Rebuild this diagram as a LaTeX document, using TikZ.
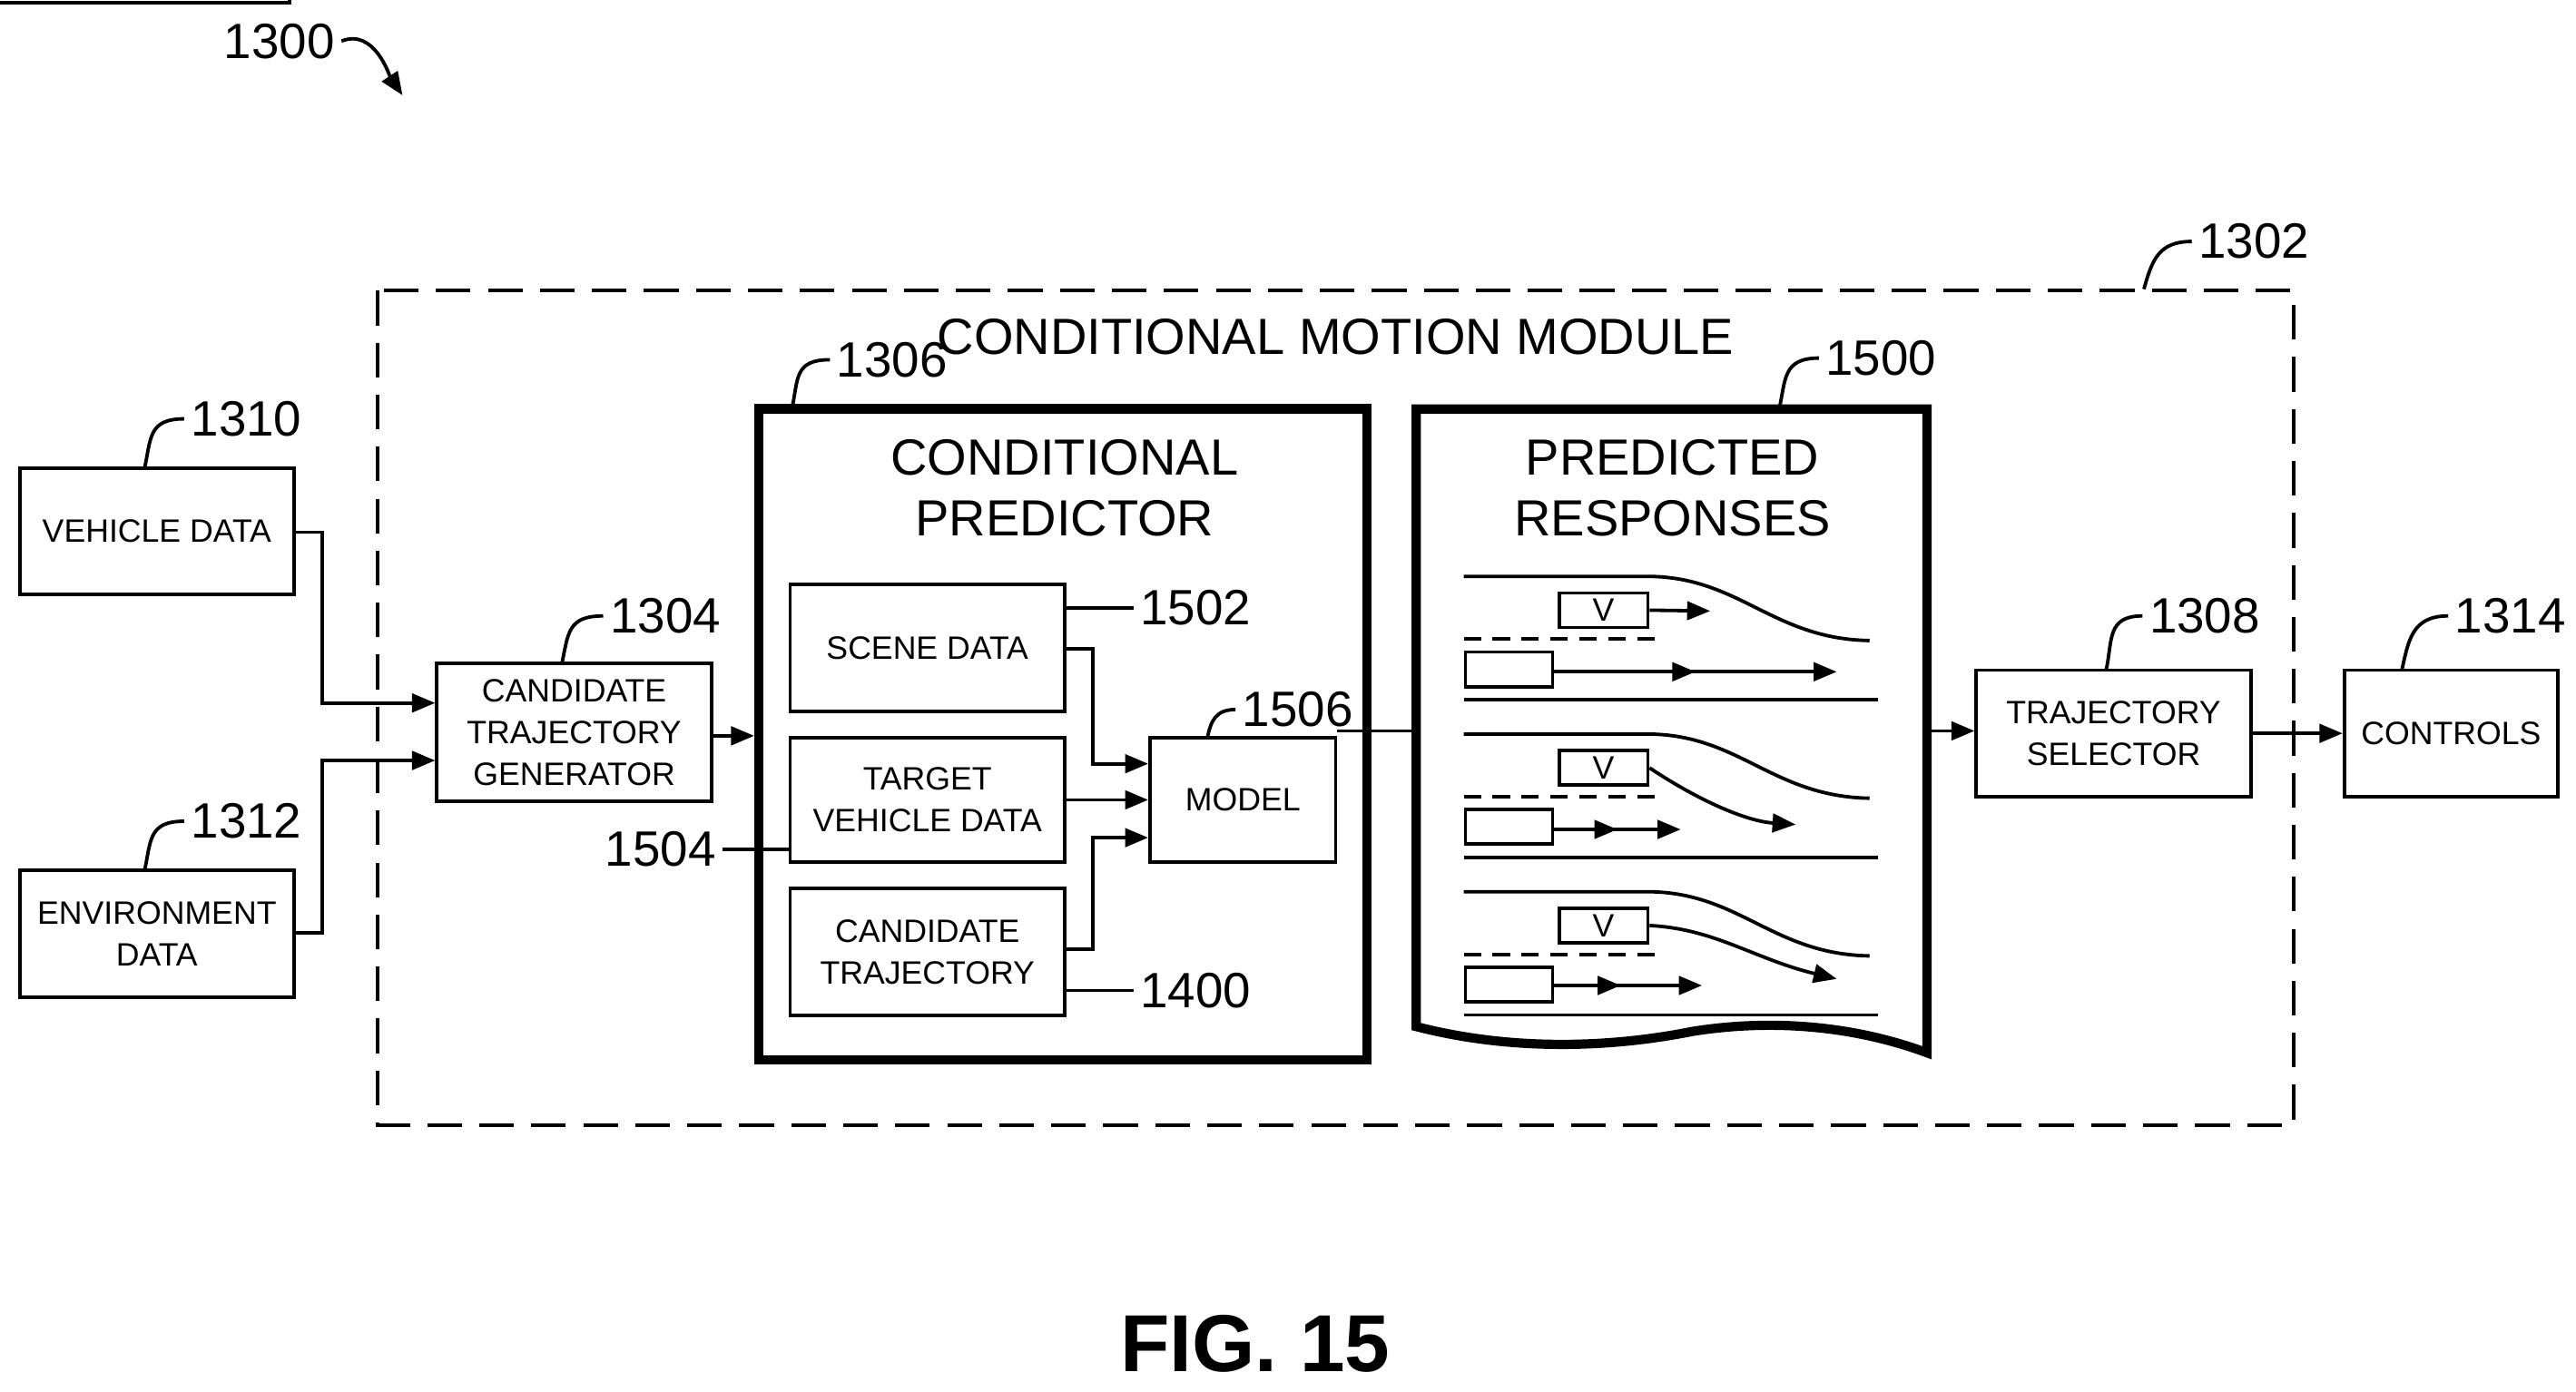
\documentclass[tikz,border=0pt]{standalone}
\usepackage{fontspec}
\setmainfont{Liberation Sans}
\usetikzlibrary{arrows.meta,decorations.markings}
\begin{document}
\begin{tikzpicture}[x=0.01cm,y=-0.01cm,
  ln/.style={line width=0.6pt},
  arr/.style={ln,-{Triangle[length=4pt,width=3.2pt]}},
  box/.style={draw,ln,inner sep=0pt,align=center,font=\fontsize{5.6}{7.2}\selectfont},
  thick box/.style={draw,line width=1.6pt,inner sep=0pt},
  lbl/.style={font=\fontsize{8.6}{10}\selectfont,inner sep=1pt},
  title/.style={font=\fontsize{8.8}{10.5}\selectfont,align=center,inner sep=0pt},
  lead/.style={ln},
  mid/.style={postaction={decorate},decoration={markings,mark=at position #1 with {\arrow{Triangle[length=4pt,width=3.2pt]}}}}
]
\useasboundingbox (0,0) rectangle (1568,847);
% outer
\draw[ln,dash pattern=on 6pt off 3pt] (230,177) rectangle (1396,685);
\node[title] (cmm) at (813,205) {CONDITIONAL MOTION MODULE};
\node[lbl] (l1300) at (170,25) {1300};
\draw[ln,-{Triangle[length=4pt,width=3.2pt]}] (l1300.east) .. controls +(20,-8) and +(-8,-12) .. (245,58);
\node[lbl] (l1302) at (1372,147) {1302};
\coordinate (c1302) at (1305,176);
\draw[lead] (l1302.west) .. controls +(-20,0) and +(5,-18) .. (c1302);
% boxes
\node[box,minimum width=167\pgflinewidth] at (0,0) {};
\node[box,minimum width=1.67cm,minimum height=0.77cm] (veh) at (95.5,323.5) {VEHICLE DATA};
\node[box,minimum width=1.67cm,minimum height=0.77cm] (env) at (95.5,568.5) {ENVIRONMENT\\DATA};
\node[box,minimum width=1.67cm,minimum height=0.84cm] (gen) at (349.5,446) {CANDIDATE\\TRAJECTORY\\GENERATOR};
\node[lbl] (l1310) at (150,255) {1310};
\node[lbl] (l1312) at (150,500) {1312};
\node[lbl] (l1304) at (405,375) {1304};
\draw[lead] (l1310.west) .. controls +(-22,0) and +(4,-18) .. (88,285);
\draw[lead] (l1312.west) .. controls +(-22,0) and +(4,-18) .. (88,530);
\draw[lead] (l1304.west) .. controls +(-22,0) and +(4,-18) .. (342,404);
\draw[arr] (veh.east |- 0,324) -- (196,324) -- (196,428) -- (gen.west |- 0,428);
\draw[arr] (env.east |- 0,568) -- (196,568) -- (196,463) -- (gen.west |- 0,463);
% conditional predictor
\node[thick box,minimum width=3.7cm,minimum height=3.96cm] (cp) at (647,447) {};
\node[title] (cpt) at (648,297) {CONDITIONAL\\PREDICTOR};
\node[lbl] (l1306) at (543,219) {1306};
\draw[lead] (l1306.west) .. controls +(-22,0) and +(4,-18) .. (482,249);
\draw[arr] (gen.east |- 0,448) -- (cp.west |- 0,448);
\node[box,minimum width=1.67cm,minimum height=0.77cm] (scene) at (564.5,394.5) {SCENE DATA};
\node[box,minimum width=1.67cm,minimum height=0.76cm] (tvd) at (564.5,487) {TARGET\\VEHICLE DATA};
\node[box,minimum width=1.67cm,minimum height=0.77cm] (ct) at (564.5,579.5) {CANDIDATE\\TRAJECTORY};
\node[box,minimum width=1.13cm,minimum height=0.76cm] (model) at (756.5,487) {MODEL};
\node[lbl,anchor=west] (l1502) at (690,370) {1502};
\node[lbl,anchor=west] (l1400) at (690,603) {1400};
\node[lbl,anchor=east] (l1504) at (440,517) {1504};
\node[lbl,anchor=west] (l1506) at (752,432) {1506};
\draw[lead] (scene.east |- 0,370) .. controls +(20,0) and +(-18,0) .. (l1502.west);
\draw[lead] (ct.east |- 0,603) .. controls +(20,0) and +(-18,0) .. (l1400.west);
\draw[lead] (l1504.east) .. controls +(18,0) and +(-20,0) .. (tvd.west |- 0,517);
\draw[lead] (l1506.west) .. controls +(-12,0) and +(2,-10) .. (735,449);
\draw[arr] (scene.east |- 0,395) -- (665,395) -- (665,465) -- (model.west |- 0,465);
\draw[arr] (tvd.east) -- (model.west);
\draw[arr] (ct.east |- 0,578) -- (665,578) -- (665,510) -- (model.west |- 0,510);
% predicted responses
\draw[line width=1.6pt] (862,249) -- (1173,249) -- (1173,641)
  .. controls (1130,625) and (1080,620) .. (1030,628)
  .. controls (980,638) and (920,640) .. (862,625) -- cycle;
\coordinate (prw) at (862,445);
\coordinate (pre) at (1173,445);
\node[title] (prt) at (1018,297) {PREDICTED\\RESPONSES};
\node[lbl] (l1500) at (1145,218) {1500};
\draw[lead] (l1500.west) .. controls +(-22,0) and +(4,-18) .. (1083,249);
\draw[ln] (model.east |- 0,445) -- (prw);
\foreach \o/\k in {0/1,96/2,192/3}{
  \begin{scope}[yshift=-\o*0.01cm]
  \draw[ln] (891,351) -- (1007,351) .. controls (1060,353) and (1080,389) .. (1138,390);
  \draw[ln,dash pattern=on 3pt off 2pt] (891,389) -- (1007,389);
  \draw[ln] (891,426) -- (1143,426);
  \node[draw,ln,minimum width=0.54cm,minimum height=0.21cm,inner sep=0pt,font=\fontsize{5.6}{6}\selectfont] (v\k) at (976,371.5) {V};
  \node[draw,ln,minimum width=0.53cm,minimum height=0.21cm,inner sep=0pt] (o\k) at (918.5,407.5) {};
  \end{scope}
}
\coordinate (e1) at (1041,372);
\coordinate (f1) at (1118,409);
\draw[arr] (v1.east) -- (e1);
\draw[arr,mid=0.5] (o1.east |- f1) -- (f1);
\coordinate (e2) at (1093,502);
\coordinate (f2) at (1023,505);
\draw[arr] (v2.east) .. controls +(30,20) and +(-30,-2) .. (e2);
\draw[arr,mid=0.5] (o2.east |- f2) -- (f2);
\coordinate (e3) at (1118,596);
\coordinate (f3) at (1036,600);
\draw[arr] (v3.east) .. controls +(40,2) and +(-50,-12) .. (e3);
\draw[arr,mid=0.45] (o3.east |- f3) -- (f3);
% selector & controls
\node[box,minimum width=1.67cm,minimum height=0.77cm] (sel) at (1286.5,446.5) {TRAJECTORY\\SELECTOR};
\node[box,minimum width=1.30cm,minimum height=0.77cm] (ctl) at (1492,446.5) {CONTROLS};
\node[lbl] (l1308) at (1342,375) {1308};
\node[lbl] (l1314) at (1528,375) {1314};
\draw[lead] (l1308.west) .. controls +(-22,0) and +(4,-18) .. (1282,408);
\draw[lead] (l1314.west) .. controls +(-22,0) and +(4,-18) .. (1462,408);
\draw[arr] (pre) -- (sel.west |- pre);
\draw[arr] (sel.east) -- (ctl.west);
\node[font=\bfseries\fontsize{14}{16}\selectfont] (fig) at (764,818) {FIG. 15};
\end{tikzpicture}
\end{document}
